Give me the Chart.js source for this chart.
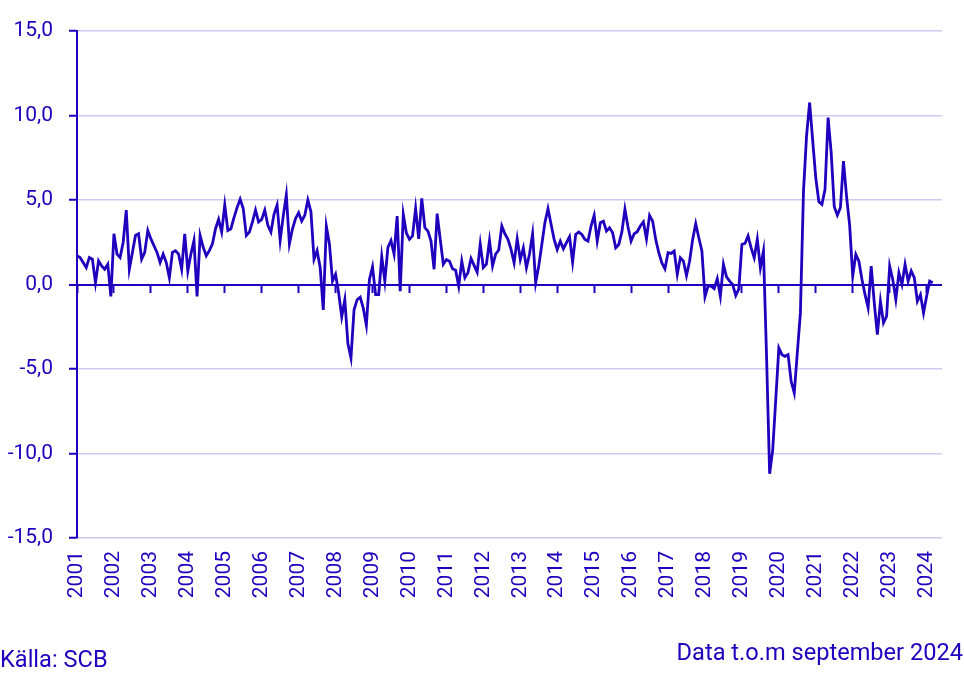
<!DOCTYPE html>
<html lang="sv">
<head>
<meta charset="utf-8">
<title>SCB</title>
<script src="https://cdn.jsdelivr.net/npm/chart.js@4.4.1/dist/chart.umd.min.js"></script>
<style>
    body { margin: 0; background: #fff; font-family: Roboto, sans-serif; }
    #wrap { position: relative; width: 964px; height: 675px; }
    #box { position: absolute; left: 0; top: 0; width: 964px; height: 675px; }
    .note { position: absolute; font-size: 23.6px; line-height: 24px; color: #1e00be; white-space: nowrap; }
</style>
</head>
<body>
<div id="wrap">
    <div id="box"><canvas id="chart"></canvas></div>
    <div class="note" style="left:0; top:647px;">Källa: SCB</div>
    <div class="note" style="right:1px; top:640px;">Data t.o.m september 2024</div>
</div>
<script>
// Colours used by SCB charts
const BLUE = '#1e00be';
const GRID = '#cecbf0';

// Years shown on the axis; the axis runs a few months past the last value
const years = [2001, 2002, 2003, 2004, 2005, 2006, 2007, 2008, 2009, 2010, 2011, 2012,
               2013, 2014, 2015, 2016, 2017, 2018, 2019, 2020, 2021, 2022, 2023, 2024];
const monthsOnAxis = 282;

// Monthly values, per cent, from January 2001
const values = [
    1.7, 1.6, 1.3, 1.0, 1.6, 1.5, 0.1, 1.4, 1.1, 0.9, 1.2, -0.7,          // 2001
    3.0, 1.8, 1.6, 2.5, 4.4, 0.9, 1.9, 2.9, 3.0, 1.5, 1.9, 3.2,           // 2002
    2.7, 2.3, 1.9, 1.3, 1.8, 1.3, 0.4, 1.9, 2.0, 1.8, 0.9, 3.0,           // 2003
    0.8, 1.8, 2.6, -0.7, 2.9, 2.2, 1.7, 2.0, 2.4, 3.3, 3.85, 3.1,         // 2004
    4.7, 3.2, 3.3, 3.95, 4.55, 5.05, 4.5, 2.9, 3.1, 3.7, 4.4, 3.7,        // 2005
    3.85, 4.4, 3.5, 3.1, 4.15, 4.7, 2.6, 4.05, 5.3, 2.4, 3.3, 3.9,        // 2006
    4.25, 3.75, 4.1, 5.0, 4.3, 1.5, 2.0, 1.0, -1.5, 3.45, 2.4, 0.2,       // 2007
    0.6, -0.5, -1.9, -0.9, -3.5, -4.35, -1.5, -0.9, -0.75, -1.4, -2.4, 0.3, // 2008
    1.05, -0.6, -0.6, 1.65, 0.2, 2.2, 2.6, 1.8, 4.05, -0.4, 4.15, 3.05,   // 2009
    2.67, 2.87, 4.5, 2.7, 5.1, 3.36, 3.16, 2.57, 0.9, 4.19, 2.67, 1.2,    // 2010
    1.48, 1.38, 0.93, 0.85, -0.1, 1.38, 0.4, 0.7, 1.54, 1.13, 0.73, 2.4,  // 2011
    1.0, 1.2, 2.6, 1.1, 1.8, 2.04, 3.46, 3.0, 2.67, 2.08, 1.28, 2.7,      // 2012
    1.48, 2.17, 0.99, 1.8, 3.0, 0.1, 1.1, 2.37, 3.66, 4.49, 3.56, 2.67,   // 2013
    2.07, 2.57, 2.11, 2.47, 2.83, 1.32, 2.96, 3.1, 2.96, 2.67, 2.57, 3.46, // 2014
    4.09, 2.57, 3.66, 3.75, 3.16, 3.36, 3.06, 2.17, 2.37, 3.1, 4.45, 3.4, // 2015
    2.57, 3.0, 3.12, 3.46, 3.7, 2.7, 4.09, 3.75, 2.67, 1.88, 1.28, 0.93,  // 2016
    1.88, 1.84, 1.98, 0.6, 1.58, 1.38, 0.53, 1.38, 2.67, 3.6, 2.77, 1.98, // 2017
    -0.73, -0.1, -0.1, -0.24, 0.34, -0.7, 1.19, 0.45, 0.2, 0.0, -0.65, -0.26, // 2018
    2.37, 2.43, 2.87, 2.17, 1.58, 2.67, 0.99, 1.98, -4.2, -11.2, -9.8, -6.8, // 2019
    -3.75, -4.15, -4.25, -4.15, -5.73, -6.42, -4.05, -1.68, 5.5, 8.8, 10.77, 8.5, // 2020
    6.3, 4.9, 4.74, 5.63, 9.88, 7.8, 4.6, 4.1, 4.55, 7.3, 5.2, 3.5,       // 2021
    0.5, 1.78, 1.38, 0.3, -0.6, -1.38, 1.09, -1.09, -2.96, -0.99, -2.27, -1.88, // 2022
    1.09, 0.3, -0.89, 0.69, 0.0, 1.19, 0.2, 0.8, 0.4, -0.99, -0.6, -1.68, // 2023
    -0.69, 0.2, 0.1                                                        // 2024
];

// Y axis ticks
const yTicks = [-15, -10, -5, 0, 5, 10, 15];

// Category labels, one per month
const months = [];
for (let i = 0; i < monthsOnAxis; i++) {
    const y = years[0] + Math.floor(i / 12);
    const m = (i % 12) + 1;
    months.push(y + '-' + (m < 10 ? '0' + m : m));
}

const isYearStart = (i) => i % 12 === 0;

Chart.defaults.font.family = 'Roboto, sans-serif';
Chart.defaults.font.size = 21;
Chart.defaults.color = BLUE;

new Chart(document.getElementById('chart'), {
    type: 'line',
    data: {
        labels: months,
        datasets: [{
            data: values,
            borderColor: BLUE,
            borderWidth: 2.8,
            pointRadius: 0,
            tension: 0,
            fill: false
        }]
    },
    options: {
        responsive: true,
        maintainAspectRatio: false,
        animation: false,
        layout: { padding: { top: 31, right: 22, bottom: 0, left: 0 } },
        plugins: {
            legend: { display: false },
            tooltip: { enabled: false }
        },
        scales: {
            // labels at the bottom
            x: {
                type: 'category',
                position: 'bottom',
                grid: { display: false, drawTicks: false },
                border: { display: false },
                ticks: {
                    autoSkip: false,
                    minRotation: 90,
                    maxRotation: 90,
                    padding: 13,
                    callback: function (val, i) {
                        return isYearStart(i) ? this.getLabelForValue(val).slice(0, 4) : '';
                    }
                },
                afterFit: (scale) => {
                    scale.height = 137;
                    scale.paddingLeft = 0;
                    scale.paddingRight = 0;
                }
            },
            // tick marks hanging from the zero line
            xz: {
                type: 'category',
                position: { y: 0 },
                border: { display: false },
                grid: {
                    drawOnChartArea: false,
                    drawTicks: true,
                    tickLength: 8,
                    tickWidth: 2,
                    tickColor: (ctx) => isYearStart(ctx.index) ? BLUE : 'rgba(0,0,0,0)'
                },
                ticks: { display: false, autoSkip: false },
                afterFit: (scale) => {
                    scale.paddingLeft = 0;
                    scale.paddingRight = 0;
                }
            },
            y: {
                min: yTicks[0],
                max: yTicks[yTicks.length - 1],
                afterBuildTicks: (scale) => { scale.ticks = yTicks.map(v => ({ value: v })); },
                border: { display: true, color: BLUE, width: 2 },
                grid: {
                    color: (ctx) => ctx.tick && ctx.tick.value === 0 ? BLUE : GRID,
                    lineWidth: (ctx) => ctx.tick && ctx.tick.value === 0 ? 2 : 1.5,
                    tickColor: BLUE,
                    tickLength: 8,
                    tickWidth: 2
                },
                ticks: {
                    padding: 16,
                    callback: (v) => v.toFixed(1).replace('.', ',')
                },
                afterFit: (scale) => { scale.width = 77; }
            }
        }
    }
});
</script>
</body>
</html>
